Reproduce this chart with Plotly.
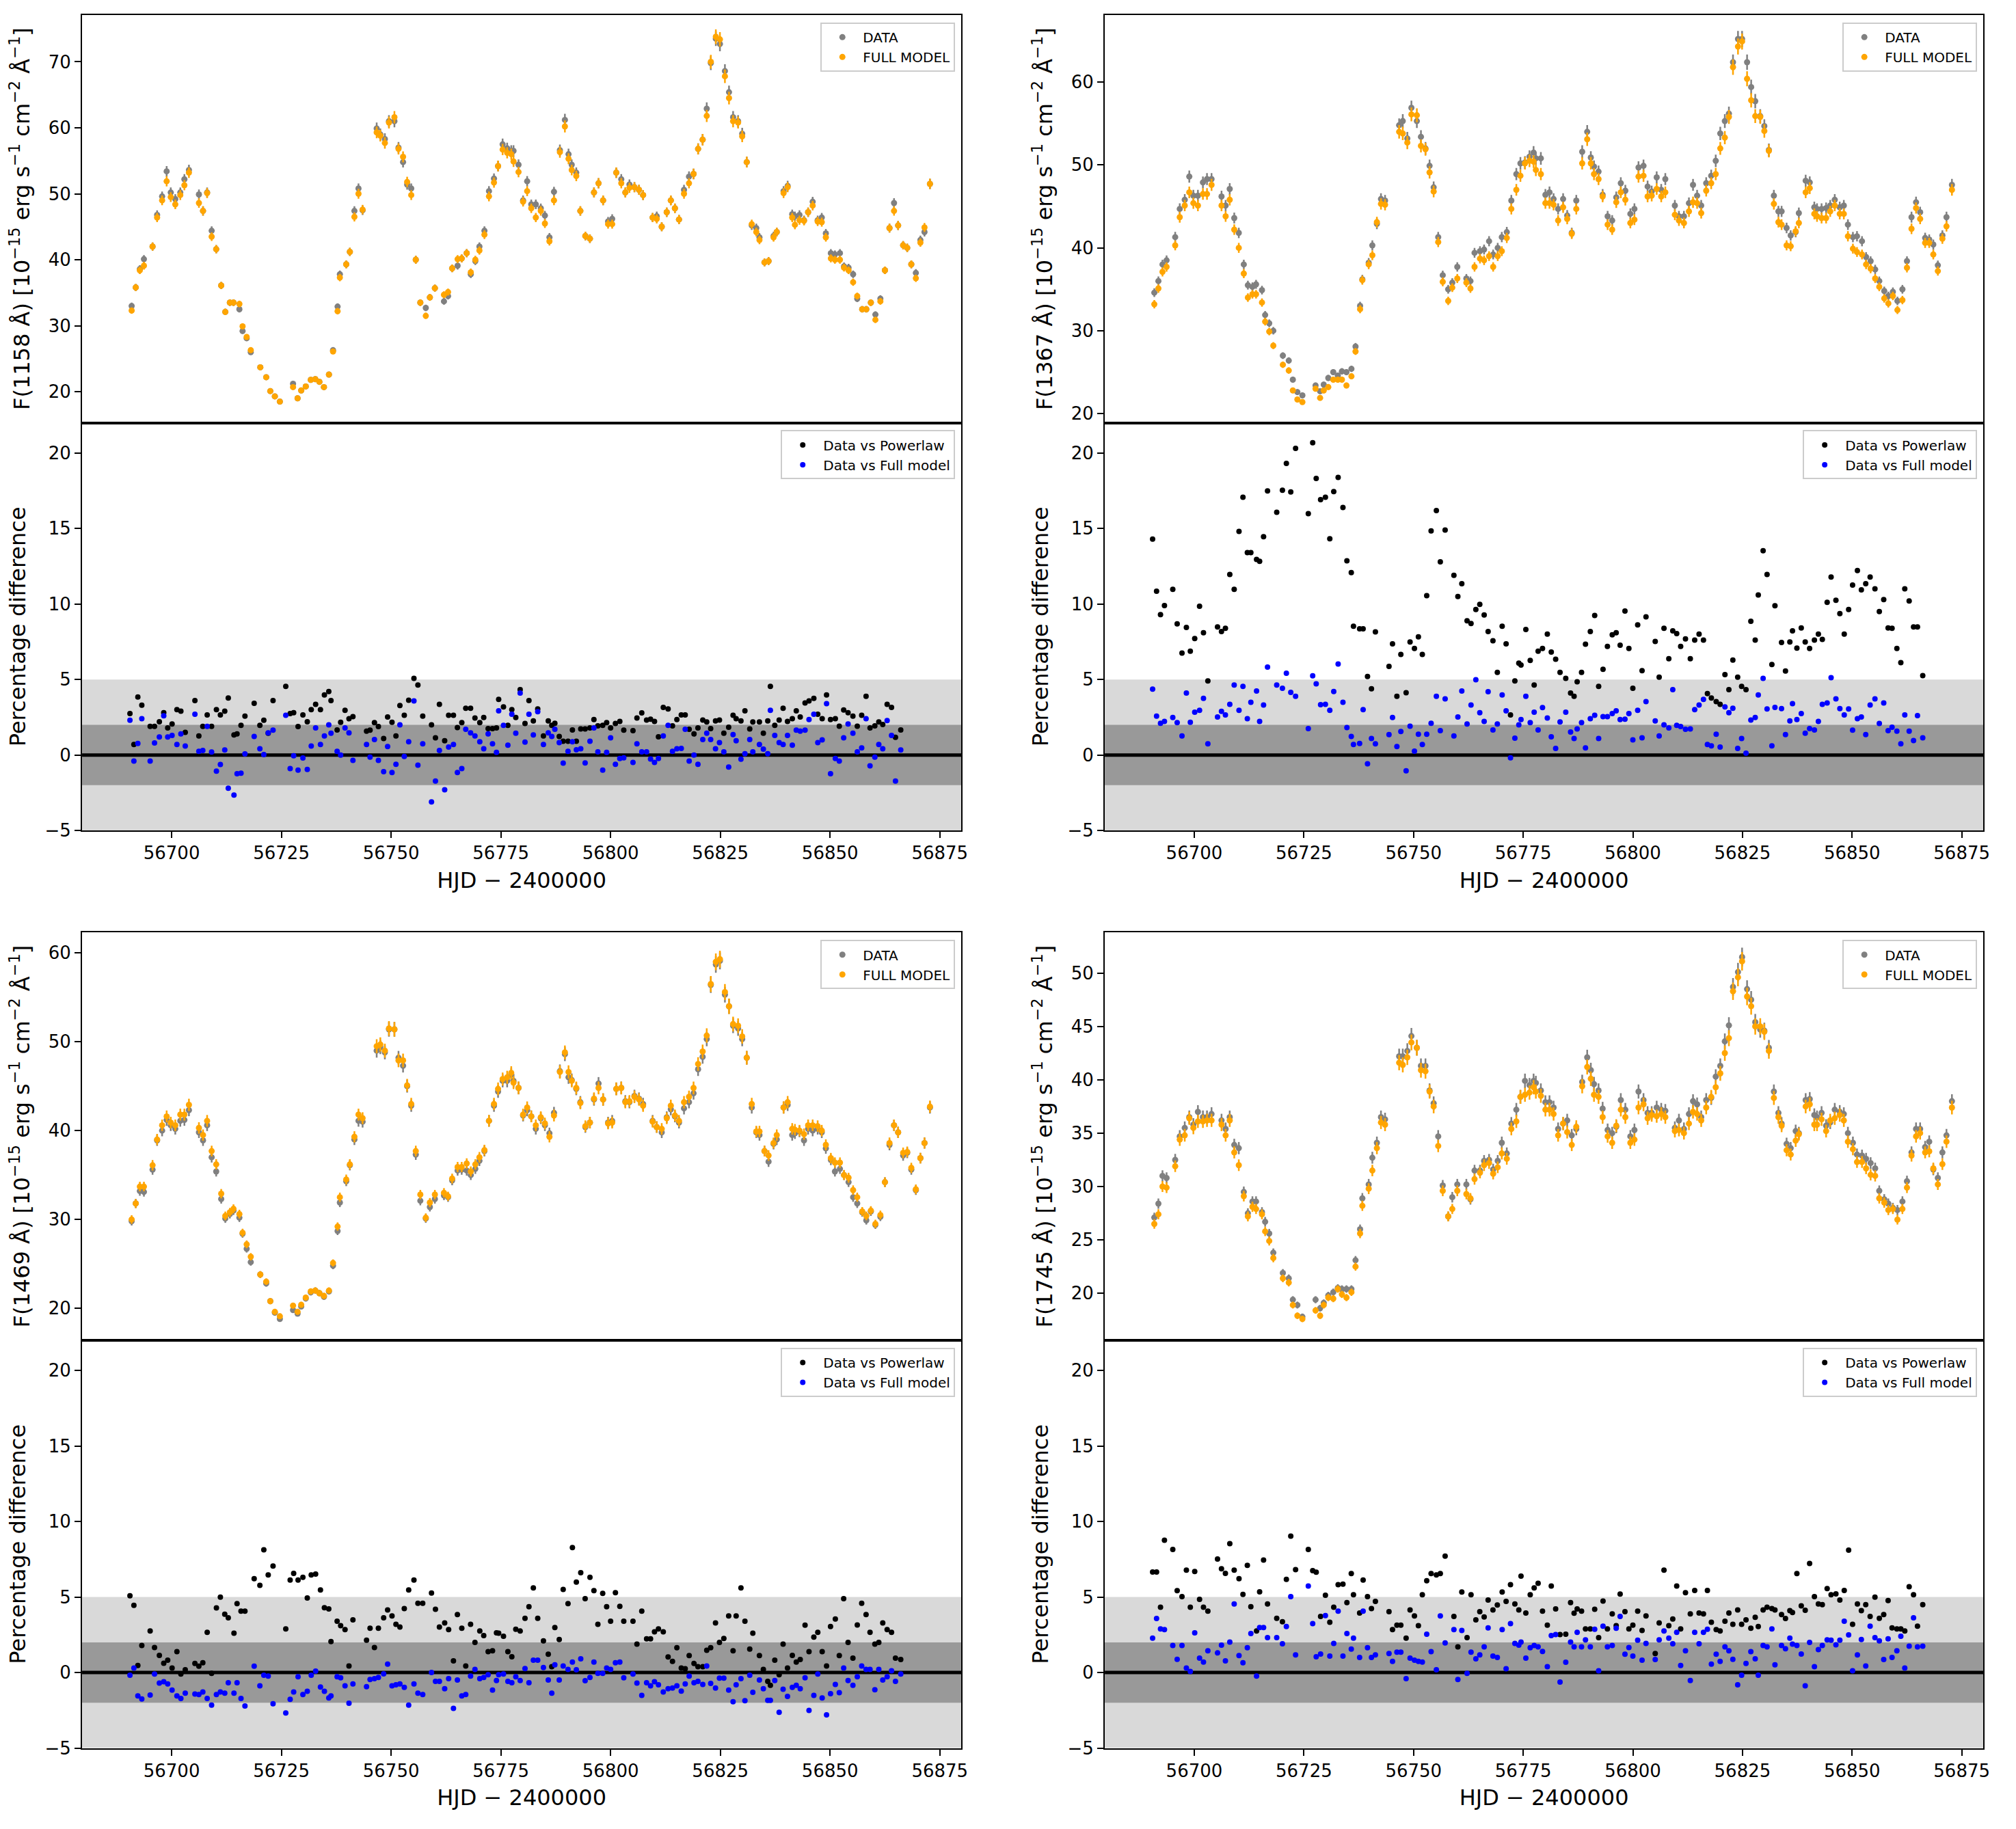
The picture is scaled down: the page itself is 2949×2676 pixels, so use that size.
import plotly.graph_objects as go

# ---------------- data ----------------
hjd = [
    56690.5, 56691.4, 56692.3, 56693.2, 56695.1, 56696.1, 56697.2, 56698.2, 56699.1, 56700.1,
    56701.2, 56702.1, 56703.1, 56705.3, 56706.2, 56707.1, 56708.1, 56709.1, 56710.2, 56711.1,
    56712.1, 56712.9, 56714.2, 56714.9, 56715.8, 56716.7, 56718.8, 56720.1, 56721.0, 56722.0,
    56723.1, 56726.0, 56727.0, 56727.8, 56728.8, 56729.9, 56730.9, 56731.8, 56732.8, 56733.9,
    56734.8, 56735.8, 56736.3, 56737.7, 56738.5, 56739.5, 56740.4, 56741.3, 56744.4, 56745.2,
    56746.2, 56747.1, 56748.3, 56749.2, 56750.2, 56751.1, 56752.0, 56753.0, 56754.0, 56755.2,
    56756.1, 56757.2, 56759.2, 56760.1, 56761.0, 56762.2, 56763.1, 56764.2, 56765.1, 56766.1,
    56767.0, 56768.1, 56769.1, 56770.2, 56771.1, 56772.1, 56773.1, 56774.0, 56774.5, 56775.6,
    56776.6, 56777.5, 56778.4, 56779.4, 56780.5, 56781.4, 56782.4, 56783.4, 56784.7, 56785.8,
    56786.6, 56787.3, 56788.3, 56789.2, 56790.3, 56791.3, 56792.2, 56793.2, 56794.2, 56795.3,
    56796.2, 56797.1, 56798.2, 56799.1, 56800.0, 56801.1, 56802.1, 56803.0, 56805.1, 56806.0,
    56807.1, 56808.2, 56809.1, 56810.0, 56810.9, 56812.0, 56813.1, 56814.1, 56815.1, 56816.1,
    56817.0, 56817.9, 56819.0, 56819.9, 56821.0, 56821.9, 56822.8, 56823.9, 56824.8, 56825.8,
    56826.9, 56827.9, 56828.6, 56829.7, 56830.6, 56831.7, 56832.4, 56833.9, 56834.8, 56835.8,
    56836.4, 56837.4, 56838.4, 56839.3, 56840.3, 56841.4, 56842.3, 56843.2, 56844.3, 56845.2,
    56846.3, 56847.2, 56848.2, 56849.2, 56850.1, 56851.2, 56852.1, 56853.1, 56854.1, 56855.2,
    56856.2, 56857.2, 56858.2, 56859.1, 56860.2, 56861.1, 56862.0, 56863.0, 56864.0, 56864.9,
    56866.1,
]

# ---- F(1158 A) ----
flux_1158_data = [
    33.0, 35.8, 38.6, 40.1, 42.0, 46.8, 49.6, 53.4, 50.2, 49.2,
    50.2, 52.2, 53.6, 49.9, 47.4, 50.2, 44.4, 41.6, 36.1, 32.1,
    33.5, 33.5, 32.5, 29.2, 28.1, 26.0, 23.7, 22.2, 20.1, 19.3,
    18.5, 21.2, 19.0, 20.2, 20.8, 21.8, 21.9, 21.5, 20.7, 22.6,
    26.3, 32.9, 37.8, 39.3, 41.2, 47.4, 50.8, 47.5, 59.9, 59.0,
    58.3, 61.0, 61.0, 57.0, 54.8, 51.4, 50.8, 40.0, 33.5, 32.7,
    34.3, 35.7, 33.7, 34.5, 38.7, 39.1, 40.2, 41.0, 37.8, 39.8,
    42.0, 44.4, 50.4, 52.3, 54.2, 57.5, 56.9, 56.5, 56.5, 54.4,
    49.0, 51.9, 48.4, 48.4, 47.8, 46.7, 43.4, 50.3, 56.6, 61.2,
    56.0, 54.4, 53.2, 47.4, 43.6, 43.2, 50.2, 51.6, 49.0, 45.8,
    46.2, 53.2, 52.2, 50.2, 51.4, 51.0, 50.6, 49.8, 46.4, 46.6,
    45.0, 47.2, 49.0, 47.8, 46.1, 50.6, 52.6, 53.0, 56.8, 58.2,
    62.9, 69.8, 73.5, 72.7, 68.6, 65.4, 61.6, 61.0, 59.1, 54.8,
    45.2, 44.8, 43.4, 39.6, 39.8, 43.6, 44.2, 50.4, 51.2, 46.9,
    46.6, 46.8, 46.0, 47.2, 48.8, 46.0, 46.4, 44.0, 41.0, 40.8,
    41.0, 39.0, 38.8, 37.8, 34.1, 32.5, 32.5, 33.5, 31.7, 34.1,
    38.4, 44.8, 48.6, 45.2, 42.2, 41.8, 39.3, 38.0, 43.0, 44.2,
    51.5,
]
flux_1158_model = [
    32.3, 35.8, 38.4, 39.1, 42.0, 46.4, 49.0, 51.9, 49.5, 48.4,
    49.8, 51.3, 53.2, 48.6, 47.4, 50.1, 43.5, 41.6, 36.1, 32.1,
    33.5, 33.5, 33.3, 29.9, 28.3, 26.3, 23.7, 22.2, 20.1, 19.3,
    18.5, 20.7, 19.0, 20.2, 20.8, 21.8, 21.9, 21.5, 20.7, 22.6,
    26.1, 32.2, 37.3, 39.3, 41.2, 46.5, 50.0, 47.6, 59.3, 58.8,
    57.7, 60.8, 61.6, 56.8, 55.6, 51.8, 49.8, 40.0, 33.5, 31.5,
    34.3, 35.7, 34.7, 35.1, 38.7, 40.1, 40.2, 41.0, 38.1, 40.0,
    41.4, 43.8, 49.6, 51.7, 54.2, 56.7, 56.2, 56.0, 54.9, 53.3,
    48.8, 50.4, 47.8, 46.4, 47.4, 45.5, 42.8, 49.0, 56.3, 60.2,
    55.3, 53.6, 52.7, 47.4, 43.6, 43.2, 50.2, 51.6, 49.0, 45.4,
    45.4, 53.2, 51.6, 50.2, 50.9, 51.0, 50.6, 49.8, 46.4, 46.2,
    45.0, 47.2, 49.0, 47.8, 46.1, 50.0, 51.6, 53.0, 56.8, 58.2,
    61.8, 70.0, 73.8, 73.4, 67.8, 64.5, 61.0, 60.8, 58.7, 54.8,
    45.4, 44.2, 43.0, 39.6, 39.8, 43.4, 44.2, 50.1, 51.0, 46.4,
    45.3, 46.0, 45.9, 47.2, 48.2, 45.8, 45.7, 43.4, 40.2, 40.0,
    40.0, 38.8, 38.4, 36.6, 34.5, 32.5, 32.5, 33.5, 30.9, 33.7,
    38.4, 44.8, 47.4, 45.2, 42.2, 41.8, 39.3, 37.2, 42.6, 44.9,
    51.5,
]
res_1158_powerlaw = [
    2.75, 0.7, 3.84, 3.3, 1.9, 1.9, 2.2, 2.8, 1.8, 2.05,
    3.0, 2.9, 1.5, 3.6, 1.26, 1.9, 2.66, 1.9, 3.0, 2.66,
    2.9, 3.77, 1.33, 1.4, 1.96, 2.58, 3.42, 1.96, 2.3, 1.44,
    3.6, 4.54, 2.75, 2.8, 1.88, 2.66, 2.2, 3.0, 3.36, 3.0,
    3.98, 4.2, 3.6, 1.66, 2.17, 2.96, 2.4, 2.54, 1.58, 1.65,
    2.14, 1.88, 1.09, 2.52, 2.17, 1.26, 3.28, 2.63, 3.63, 5.08,
    4.63, 2.58, 2.0, 1.14, 3.36, 0.95, 2.63, 2.63, 1.82, 2.14,
    3.1, 3.1, 2.45, 2.14, 2.49, 1.75, 1.75, 1.79, 3.68, 3.19,
    1.96, 3.0, 2.49, 4.33, 2.09, 3.6, 2.26, 3.05, 1.26, 2.26,
    1.96, 2.1, 1.23, 0.91, 0.91, 1.66, 0.91, 1.73, 1.73, 1.79,
    2.35, 1.93, 1.96, 2.14, 1.79, 2.09, 2.23, 1.65, 1.61, 2.45,
    2.79, 2.31, 2.37, 2.23, 1.21, 3.15, 3.05, 1.93, 2.35, 2.66,
    2.66, 1.7, 1.4, 1.79, 2.31, 2.19, 1.75, 2.26, 2.31, 1.44,
    1.84, 2.63, 2.4, 2.26, 2.93, 1.73, 2.19, 2.19, 1.44, 2.26,
    4.54, 1.96, 2.31, 3.1, 2.23, 2.4, 2.93, 2.52, 3.45, 3.58,
    3.75, 2.7, 2.4, 3.98, 2.35, 2.4, 1.91, 2.98, 2.8, 2.58,
    1.91, 2.63, 3.89, 1.79, 1.93, 2.19, 2.02, 3.36, 3.15, 1.17,
    1.66,
]
res_1158_full = [
    2.3, -0.4, 0.77, 2.4, -0.4, 0.8, 1.2, 2.6, 1.2, 1.3,
    0.7, 1.4, 0.6, 2.7, 0.25, 0.3, 1.9, 0.2, -1.07, -0.63,
    0.33, -2.2, -2.65, -1.24, -1.2, 0.07, 1.23, 0.42, 0.03, 1.47,
    1.65, 2.63, -0.9, -0.05, -1.0, -0.2, -0.96, 0.6, 1.8, 0.7,
    1.26, 2.0, 1.44, 0.25, 0.0, 1.8, 1.47, -0.35, 0.7, -0.14,
    1.03, -0.35, -1.1, 0.56, -1.16, -0.61, 2.0, -0.1, 0.88, 3.58,
    -0.67, 0.74, -3.1, -1.72, 0.3, -2.3, 0.53, 0.7, -1.16, -0.9,
    1.7, 1.47, 1.26, 0.88, 0.42, 1.4, 0.74, 0.18, 2.93, 1.96,
    0.65, 2.7, 1.44, 4.1, 0.86, 2.7, 1.33, 2.87, 0.7, 1.47,
    1.23, 1.7, 0.82, -0.54, 0.25, 0.88, 0.35, 0.42, -0.53, 0.91,
    1.79, 0.21, -1.0, 0.18, 1.14, -0.61, -0.23, -0.18, -0.49, 0.74,
    0.21, 0.21, -0.26, -0.49, -0.23, 1.26, 1.96, 0.25, 0.42, 0.44,
    1.7, -0.4, 0.0, -0.61, 1.03, 1.44, 1.03, 0.42, 0.82, 0.21,
    -0.8, 1.35, 0.95, -0.28, 0.09, 1.03, 0.21, 0.7, 0.39, 0.09,
    2.96, 1.3, 0.82, 0.7, 1.3, 0.65, 1.65, 1.58, 1.65, 2.35,
    2.7, 0.82, 1.0, 3.4, -1.24, -0.23, -0.4, 1.14, 2.05, 1.44,
    0.21, 0.47, 2.4, -0.72, -0.14, 0.7, 0.42, 2.28, 1.3, -1.72,
    0.33,
]

# ---- F(1367 A) ----
flux_1367_data = [
    34.6, 36.0, 38.0, 38.5, 41.3, 44.7, 45.8, 48.6, 46.3, 46.3,
    47.9, 48.3, 48.3, 46.2, 45.1, 47.1, 43.6, 41.8, 38.0, 35.5,
    35.3, 35.6, 34.9, 31.9, 30.9, 30.0, 27.0, 26.4, 24.1, 22.6,
    22.2, 23.4, 22.7, 23.5, 24.3, 25.0, 24.6, 25.1, 25.0, 25.4,
    28.1, 33.0, 36.2, 38.2, 40.3, 42.9, 45.9, 45.7, 54.8, 55.3,
    53.2, 56.9, 55.3, 53.4, 52.0, 49.9, 47.3, 41.3, 36.7, 35.0,
    35.8, 37.7, 36.3, 36.0, 39.4, 39.6, 39.8, 40.8, 39.2, 40.0,
    41.3, 41.9, 45.7, 48.9, 50.2, 50.3, 51.0, 51.5, 50.8, 50.8,
    46.4, 46.7, 45.9, 44.7, 45.9, 43.9, 41.8, 45.7, 51.6, 54.0,
    50.9, 49.8, 49.2, 46.4, 43.8, 43.3, 46.1, 47.8, 46.9, 44.1,
    44.7, 49.7, 49.9, 47.4, 46.8, 48.5, 47.0, 48.3, 45.1, 43.8,
    43.8, 45.4, 47.6, 46.3, 45.1, 47.8, 48.7, 50.5, 53.8, 55.3,
    56.2, 62.4, 65.2, 65.2, 62.4, 59.4, 57.7, 55.9, 54.7, 51.8,
    46.3, 44.4, 44.4, 42.4, 41.5, 41.9, 44.2, 48.1, 47.9, 44.9,
    44.7, 44.7, 44.8, 45.1, 45.8, 44.9, 45.1, 42.8, 41.3, 41.4,
    40.8, 38.9, 38.4, 37.4, 36.0, 34.8, 34.2, 34.7, 33.6, 35.0,
    38.4, 43.7, 45.5, 44.3, 41.2, 41.0, 40.4, 37.9, 41.5, 43.7,
    47.6,
]
flux_1367_model = [
    33.2, 35.1, 37.1, 37.7, 40.3, 43.7, 45.1, 46.7, 45.4, 45.1,
    46.5, 46.5, 47.6, 45.1, 43.8, 45.8, 42.2, 40.0, 36.9, 34.0,
    34.4, 34.4, 33.4, 31.1, 29.9, 28.2, 25.9, 25.2, 22.8, 21.7,
    21.4, 23.0, 21.9, 22.8, 23.2, 24.1, 24.1, 24.1, 23.4, 24.5,
    27.5, 32.6, 36.1, 38.0, 39.1, 43.1, 45.3, 45.2, 54.0, 53.8,
    52.7, 56.1, 56.0, 52.3, 51.9, 49.1, 46.8, 40.7, 35.9, 33.6,
    35.2, 36.3, 35.8, 35.1, 37.7, 38.7, 38.5, 39.0, 37.7, 39.0,
    39.6, 41.2, 44.7, 47.0, 48.7, 50.2, 50.5, 50.4, 49.4, 48.9,
    45.4, 45.4, 45.2, 43.3, 44.9, 43.5, 41.7, 44.7, 50.2, 53.1,
    50.2, 48.9, 48.3, 46.2, 42.8, 42.2, 45.5, 46.7, 45.8, 43.0,
    43.4, 48.6, 48.7, 46.2, 46.3, 47.1, 46.2, 46.7, 44.0, 43.3,
    43.0, 44.4, 45.5, 45.4, 44.2, 46.9, 47.8, 48.9, 52.0, 53.3,
    55.8, 61.8, 64.3, 64.9, 60.4, 57.8, 55.9, 55.8, 54.1, 51.7,
    45.3, 43.1, 42.8, 40.3, 40.2, 42.0, 43.0, 46.7, 47.2, 44.1,
    43.8, 43.6, 43.6, 44.4, 45.1, 44.1, 44.1, 41.4, 39.9, 39.5,
    39.2, 38.0, 37.5, 36.3, 35.3, 33.9, 33.3, 34.2, 32.5, 33.7,
    37.6, 42.3, 44.8, 43.5, 40.6, 40.6, 39.2, 37.2, 41.1, 42.6,
    47.0,
]
res_1367_powerlaw = [
    14.3, 10.85, 9.29, 9.9, 10.97, 8.68, 6.75, 8.45, 6.87, 7.71,
    9.85, 8.1, 4.91, 8.48, 8.18, 8.39, 11.95, 10.97, 14.8, 17.07,
    13.4, 13.4, 12.95, 12.83, 14.46, 17.49, 16.07, 17.53, 19.31, 17.42,
    20.3, 15.98, 20.68, 18.31, 16.91, 17.07, 14.32, 17.44, 18.38, 16.39,
    12.86, 12.08, 8.53, 8.36, 8.36, 5.2, 4.38, 8.15, 5.87, 7.36,
    3.89, 6.66, 4.12, 7.48, 7.05, 7.83, 6.66, 10.55, 14.84, 16.19,
    12.79, 14.9, 11.9, 10.5, 11.34, 8.89, 8.71, 9.64, 9.97, 9.27,
    8.18, 7.57, 5.47, 8.53, 7.36, 2.66, 4.91, 6.08, 5.96, 8.31,
    6.26, 4.63, 6.87, 7.05, 8.01, 6.82, 6.34, 5.47, 5.08, 4.1,
    3.89, 4.85, 5.47, 7.34, 8.18, 9.24, 4.54, 5.68, 7.19, 7.96,
    8.1, 7.27, 9.53, 7.05, 4.42, 8.62, 5.59, 9.15, 7.52, 5.15,
    8.39, 6.38, 8.22, 8.04, 7.19, 7.69, 6.38, 7.61, 8.01, 7.61,
    4.07, 3.77, 3.54, 3.36, 5.33, 4.33, 6.29, 5.15, 4.54, 4.33,
    8.85, 7.61, 10.6, 13.53, 11.95, 5.99, 9.88, 7.45, 5.56, 7.48,
    8.22, 7.08, 8.41, 7.48, 7.05, 7.61, 8.01, 7.66, 10.11, 11.78,
    10.25, 9.36, 8.01, 9.64, 11.25, 12.22, 10.94, 11.34, 11.78, 11.0,
    9.5, 10.29, 8.41, 8.39, 7.05, 6.12, 11.0, 10.2, 8.48, 8.48,
    5.26,
]
res_1367_full = [
    4.36, 2.58, 2.1, 2.23, 2.49, 2.14, 1.26, 4.1, 2.17, 2.84,
    2.96, 3.75, 0.74, 2.52, 2.89, 2.66, 3.36, 4.63, 2.96, 4.54,
    2.4, 3.49, 4.24, 2.23, 3.31, 5.82, 4.63, 4.42, 5.42, 4.15,
    3.89, 1.75, 5.24, 4.71, 3.33, 3.36, 2.96, 4.21, 6.03, 3.49,
    1.82, 1.23, 0.7, 0.77, 3.01, -0.58, 1.09, 0.74, 1.35, 2.49,
    0.56, 1.56, -1.05, 1.91, 0.26, 1.38, 0.7, 1.38, 2.1, 3.89,
    1.61, 3.72, 1.26, 2.52, 4.24, 2.05, 3.31, 4.99, 2.8, 2.23,
    4.19, 1.66, 2.05, 3.98, 2.93, -0.18, 1.12, 2.0, 2.35, 3.89,
    2.14, 2.84, 1.66, 3.14, 2.45, 1.21, 0.44, 2.19, 2.84, 1.52,
    1.09, 1.73, 2.14, 0.47, 2.4, 2.63, 1.09, 2.54, 2.54, 2.75,
    2.93, 2.35, 2.37, 2.75, 1.0, 2.96, 1.14, 3.54, 2.26, 1.26,
    2.0, 1.79, 4.33, 1.96, 1.88, 1.7, 1.73, 3.01, 3.31, 3.68,
    0.7, 0.61, 1.38, 0.53, 3.19, 2.8, 3.1, 0.44, 1.09, 0.12,
    2.31, 2.49, 3.98, 5.08, 3.05, 0.61, 3.15, 3.07, 1.35, 2.26,
    3.4, 2.35, 2.75, 1.44, 1.75, 1.66, 2.23, 3.36, 3.45, 5.12,
    3.72, 3.07, 2.66, 3.05, 1.65, 2.4, 2.52, 1.35, 3.31, 3.72,
    2.09, 3.45, 1.61, 1.84, 1.58, 0.74, 2.66, 1.58, 0.96, 2.61,
    1.14,
]

# ---- F(1469 A) ----
flux_1469_data = [
    29.8, 31.8, 33.2, 33.1, 35.6, 38.9, 40.0, 41.2, 40.6, 40.2,
    41.1, 41.2, 42.3, 39.8, 38.9, 40.6, 37.0, 35.4, 32.3, 30.1,
    30.6, 31.0, 30.2, 28.4, 26.7, 25.2, 23.8, 22.8, 20.8, 19.5,
    18.8, 19.8, 19.4, 20.2, 21.1, 21.8, 22.0, 21.7, 21.3, 21.9,
    24.8, 28.7, 31.9, 34.3, 36.1, 39.0, 41.1, 41.0, 49.0, 49.4,
    48.8, 51.4, 51.4, 48.2, 47.3, 45.0, 42.8, 37.3, 32.1, 30.1,
    31.4, 32.3, 32.7, 32.5, 34.4, 35.5, 35.6, 35.5, 35.0, 35.7,
    36.6, 37.7, 41.1, 42.8, 44.4, 45.6, 45.6, 46.3, 45.6, 44.8,
    41.7, 42.3, 41.6, 40.2, 41.4, 40.6, 39.7, 42.0, 46.7, 48.6,
    46.0, 45.7, 44.7, 43.2, 40.4, 40.9, 43.5, 45.3, 43.5, 40.9,
    41.1, 44.7, 44.8, 43.3, 43.2, 43.9, 43.6, 43.0, 41.1, 40.4,
    39.8, 41.5, 42.4, 41.6, 40.9, 42.5, 43.2, 44.2, 46.9, 48.3,
    50.3, 56.4, 58.7, 59.1, 55.3, 54.0, 51.8, 51.5, 50.3, 48.2,
    42.6, 39.8, 39.5, 37.7, 36.5, 38.5, 39.0, 42.6, 42.9, 39.5,
    39.7, 39.9, 38.9, 40.2, 40.0, 40.2, 39.8, 38.0, 36.7, 35.4,
    35.7, 35.0, 34.2, 32.5, 31.8, 30.8, 29.9, 30.9, 29.4, 30.3,
    34.2, 38.4, 40.6, 39.8, 37.2, 37.5, 35.6, 33.3, 36.9, 38.6,
    42.6,
]
flux_1469_model = [
    30.0, 31.8, 33.7, 33.7, 36.1, 39.0, 40.6, 41.6, 40.9, 40.6,
    41.8, 41.8, 42.9, 40.3, 39.5, 41.1, 37.7, 36.2, 32.9, 30.4,
    30.8, 31.2, 30.6, 28.5, 27.2, 25.8, 23.8, 23.0, 20.8, 19.6,
    19.1, 20.3, 19.6, 20.4, 21.2, 21.9, 22.0, 21.7, 21.4, 22.0,
    25.1, 29.2, 32.5, 34.5, 36.2, 39.3, 41.8, 41.4, 49.5, 49.7,
    49.0, 51.5, 51.4, 47.9, 47.9, 45.1, 43.0, 37.7, 32.8, 30.2,
    31.9, 32.8, 33.0, 32.6, 34.6, 35.9, 35.9, 36.3, 35.4, 36.2,
    37.0, 37.8, 41.1, 43.0, 44.7, 45.8, 46.0, 46.5, 45.4, 44.8,
    41.8, 42.6, 41.6, 40.6, 41.5, 40.8, 39.3, 41.7, 46.6, 48.8,
    46.6, 45.6, 44.8, 43.1, 40.5, 40.9, 43.6, 44.8, 43.5, 40.8,
    40.9, 44.7, 44.8, 43.2, 43.3, 43.8, 43.5, 42.8, 41.0, 40.4,
    40.2, 41.4, 42.8, 41.7, 41.1, 43.2, 43.8, 44.8, 47.5, 48.9,
    50.7, 56.5, 59.0, 59.3, 55.6, 54.0, 52.0, 51.8, 50.6, 48.2,
    43.0, 39.9, 39.9, 37.7, 37.2, 38.6, 39.5, 42.6, 43.2, 40.2,
    40.1, 40.0, 39.6, 40.6, 40.6, 40.5, 40.0, 38.4, 36.9, 36.4,
    36.4, 35.0, 34.7, 33.3, 32.5, 30.9, 30.4, 31.0, 29.5, 30.5,
    34.2, 38.6, 40.6, 39.8, 37.5, 37.6, 35.8, 33.4, 36.9, 38.6,
    42.7,
]
res_1469_powerlaw = [
    5.08, 4.45, 0.47, 1.79, 2.75, 1.66, 1.14, 0.61, 0.82, 0.3,
    1.38, -0.1, 0.18, 0.6, 0.42, 0.65, 2.66, -0.05, 4.28, 4.99,
    3.86, 3.63, 2.61, 4.56, 4.07, 4.07, 6.22, 5.77, 8.13, 6.47,
    7.05, 2.89, 6.13, 6.57, 6.13, 6.31, 4.94, 6.47, 6.52, 5.47,
    4.29, 4.21, 2.05, 3.4, 3.1, 2.84, 0.44, 3.49, 2.14, 2.93,
    1.66, 2.93, 3.63, 4.15, 3.75, 3.19, 3.01, 4.24, 5.47, 6.12,
    4.59, 4.59, 5.26, 4.19, 3.01, 3.28, 2.84, 0.77, 3.84, 2.93,
    0.44, 3.19, 2.0, 2.75, 2.45, 1.38, 1.44, 2.63, 2.61, 2.4,
    1.38, 1.05, 2.87, 2.75, 3.59, 4.36, 5.61, 3.59, 2.1, 1.21,
    0.39, 2.98, 2.19, 5.5, 4.56, 8.27, 5.99, 6.61, 4.89, 6.31,
    5.42, 3.19, 5.24, 4.36, 3.4, 5.29, 4.38, 3.4, 3.4, 1.88,
    4.07, 2.23, 2.23, 2.7, 2.89, 2.7, 1.03, 0.74, 1.65, 0.3,
    0.25, 1.12, 0.6, 0.39, 0.39, 1.47, 1.65, 3.28, 2.0, 2.26,
    3.75, 1.44, 3.75, 5.61, 3.4, 1.56, 2.61, 1.12, 0.21, -0.58,
    -0.84, 0.82, -0.14, 1.88, 0.3, 1.14, 0.7, 0.86, 3.14, 1.38,
    2.35, 2.66, 1.38, 0.44, 3.05, 3.54, 1.12, 4.89, 2.0, 0.96,
    3.15, 4.59, 3.84, 2.66, 1.88, 2.0, 3.28, 2.84, 2.66, 0.95,
    0.86,
]
res_1469_full = [
    -0.18, 0.3, -1.54, -1.75, -1.49, -0.1, -0.7, -0.61, -0.75, -1.16,
    -1.54, -1.72, -1.37, -1.42, -1.45, -1.28, -1.72, -2.16, -1.45, -1.28,
    -1.37, -0.67, -1.37, -0.67, -1.72, -2.21, 0.42, -0.88, -0.18, -0.23,
    -2.07, -2.68, -1.77, -1.28, -0.28, -1.45, -1.24, -0.18, 0.09, -0.96,
    -1.24, -1.68, -1.54, -0.28, -0.35, -0.88, -2.03, -0.75, -0.93, -0.46,
    -0.4, -0.32, -0.09, 0.56, -0.88, -0.81, -0.75, -0.98, -2.16, -0.75,
    -1.37, -1.45, 0.0, -0.58, -0.58, -1.07, -0.4, -2.37, -0.49, -1.54,
    -1.45, -0.23, 0.21, -0.4, -0.32, -0.14, -1.16, -0.53, -0.14, -0.1,
    -0.58, -0.67, -0.28, -0.53, 0.26, -0.67, 0.82, 0.82, 0.33, -0.49,
    -1.37, 0.51, -0.49, 0.44, 0.21, 0.7, 0.18, 0.91, -0.54, -0.32,
    0.7, -0.05, -0.05, 0.3, 0.21, 0.65, 0.7, -0.35, -0.1, -0.7,
    -1.51, -0.67, -0.88, -0.61, -0.81, -1.28, -1.07, -1.02, -0.88, -1.23,
    -0.75, -0.23, -0.67, -0.58, -0.79, 0.44, -0.72, -1.02, -0.37, -0.37,
    -1.16, -1.93, -0.81, -0.4, -1.86, -0.18, -1.31, -0.49, -1.07, -1.84,
    -1.84, -0.53, -2.63, -1.1, -1.58, -0.98, -0.84, -1.07, -0.35, -2.51,
    -1.51, -0.1, -1.68, -2.8, -1.4, -0.79, -1.33, 0.3, -0.53, -0.84,
    -0.28, 0.44, 0.21, 0.21, -1.14, 0.21, -0.49, -0.28, 0.12, -0.58,
    -0.1,
]

# ---- F(1745 A) ----
flux_1745_data = [
    27.1, 28.4, 31.0, 30.8, 32.5, 34.7, 35.5, 36.5, 35.8, 37.0,
    36.5, 36.5, 36.8, 36.2, 35.4, 36.5, 33.9, 33.6, 29.5, 27.5,
    28.6, 28.6, 27.6, 26.7, 25.6, 23.8, 21.9, 21.4, 19.4, 18.9,
    17.8, 19.4, 18.6, 19.1, 19.8, 20.1, 20.5, 20.4, 20.4, 20.4,
    23.1, 26.0, 28.9, 30.2, 32.7, 34.1, 36.5, 36.3, 42.2, 42.2,
    42.7, 44.1, 43.0, 41.3, 41.3, 39.0, 37.8, 34.7, 30.1, 27.2,
    29.0, 30.2, 30.2, 28.8, 31.5, 31.5, 32.4, 32.5, 31.6, 32.4,
    34.1, 33.1, 35.9, 37.2, 38.4, 39.9, 39.5, 39.9, 39.7, 39.0,
    37.9, 37.9, 37.4, 35.4, 35.9, 36.2, 34.8, 35.4, 39.8, 42.1,
    40.9, 39.6, 39.0, 37.3, 35.3, 35.0, 35.6, 38.1, 37.2, 34.7,
    35.3, 38.9, 38.1, 36.9, 36.9, 37.4, 37.2, 37.1, 35.5, 36.2,
    35.4, 36.8, 38.0, 37.7, 36.5, 38.1, 38.3, 40.3, 41.3, 43.6,
    45.1, 48.7, 50.1, 51.5, 48.5, 47.5, 45.4, 44.7, 44.6, 43.0,
    38.9, 36.9, 35.9, 34.0, 33.6, 35.2, 35.0, 38.1, 38.2, 36.7,
    36.5, 36.9, 35.7, 36.0, 37.2, 37.0, 36.8, 35.0, 34.1, 33.0,
    32.9, 32.6, 32.2, 31.7, 29.6, 28.8, 28.4, 28.0, 27.8, 28.6,
    30.5, 33.2, 35.4, 35.4, 33.7, 34.2, 31.6, 30.8, 33.2, 34.8,
    38.0,
]
flux_1745_model = [
    26.5, 27.4, 30.0, 29.9, 31.9, 34.4, 34.8, 36.4, 35.5, 36.1,
    36.1, 36.2, 36.2, 35.8, 34.8, 36.2, 33.2, 32.0, 29.1, 27.2,
    28.1, 27.9, 27.4, 25.8, 24.9, 23.3, 21.4, 21.0, 18.9, 17.9,
    17.6, 18.4, 17.9, 18.9, 19.6, 19.5, 20.4, 19.9, 19.6, 20.1,
    22.5, 25.6, 28.2, 29.8, 31.5, 33.6, 36.0, 35.8, 41.6, 41.4,
    42.1, 43.5, 43.0, 40.9, 40.8, 38.9, 37.5, 33.8, 29.6, 27.2,
    27.9, 29.6, 29.3, 28.9, 30.7, 31.3, 32.0, 32.2, 31.2, 31.8,
    33.1, 32.6, 35.4, 36.1, 38.4, 38.6, 38.8, 39.3, 38.9, 38.5,
    37.2, 37.2, 36.8, 34.8, 35.9, 35.1, 33.9, 35.6, 39.4, 41.2,
    40.1, 38.6, 38.4, 36.5, 34.7, 34.1, 35.7, 37.2, 36.5, 34.1,
    34.4, 37.4, 37.7, 36.4, 36.7, 36.6, 36.8, 36.5, 35.2, 35.3,
    35.0, 35.9, 37.0, 36.8, 36.2, 37.4, 38.4, 39.3, 40.6, 42.5,
    43.9, 48.3, 49.6, 51.1, 47.8, 46.9, 45.0, 45.0, 44.5, 42.7,
    38.3, 36.5, 35.7, 33.4, 33.0, 34.3, 34.9, 37.5, 37.7, 35.8,
    35.8, 36.3, 35.2, 36.2, 36.4, 36.7, 36.2, 34.2, 33.5, 32.3,
    32.3, 31.7, 31.1, 31.0, 28.9, 28.5, 27.8, 27.9, 26.9, 27.9,
    29.9, 32.9, 34.7, 35.0, 33.2, 33.3, 31.7, 30.2, 32.1, 34.2,
    37.4,
]
res_1745_powerlaw = [
    6.66, 6.66, 4.33, 8.76, 8.15, 5.42, 5.03, 6.78, 4.33, 6.69,
    4.85, 4.33, 4.07, 7.52, 6.87, 6.57, 8.53, 6.78, 6.22, 5.17,
    7.1, 4.36, 2.75, 5.35, 7.45, 4.54, 3.59, 3.36, 6.17, 9.03,
    6.82, 8.15, 6.75, 6.64, 3.72, 5.12, 3.33, 4.33, 5.82, 5.85,
    4.63, 6.55, 5.15, 3.94, 6.12, 5.03, 4.24, 4.71, 4.03, 2.84,
    3.14, 3.14, 2.28, 4.15, 3.75, 3.1, 5.15, 6.08, 6.55, 6.47,
    6.55, 7.71, 3.72, 1.7, 5.33, 2.31, 5.15, 3.49, 4.03, 3.68,
    4.8, 4.15, 4.47, 5.33, 4.71, 5.82, 4.54, 4.15, 6.38, 3.94,
    5.15, 5.61, 5.91, 4.07, 3.14, 5.73, 4.21, 2.52, 2.54, 4.63,
    3.93, 4.21, 4.07, 2.89, 2.89, 4.19, 2.31, 4.73, 2.89, 3.89,
    3.1, 5.2, 4.03, 2.89, 3.14, 4.07, 2.79, 3.75, 1.26, 3.28,
    6.78, 3.1, 3.54, 5.73, 2.89, 5.29, 3.89, 5.43, 3.94, 3.89,
    5.43, 3.33, 2.84, 2.75, 3.4, 3.94, 3.19, 4.15, 3.19, 3.49,
    2.93, 3.66, 3.05, 4.15, 4.33, 4.24, 4.15, 3.84, 3.58, 4.1,
    3.98, 6.55, 4.42, 4.12, 7.22, 5.03, 4.54, 4.5, 5.56, 5.15,
    5.21, 4.8, 5.43, 8.1, 3.19, 4.54, 4.1, 4.5, 3.72, 4.99,
    3.59, 3.84, 4.77, 2.96, 2.89, 2.89, 2.75, 5.68, 5.15, 3.07,
    4.5,
]
res_1745_full = [
    2.28, 3.58, 2.89, 2.84, 1.79, 0.88, 1.79, 0.3, 0.07, 2.63,
    0.95, 0.7, 1.44, 1.3, 1.82, 0.77, 2.02, 4.54, 1.12, 0.65,
    1.65, 2.58, -0.23, 2.98, 2.98, 2.31, 2.31, 1.91, 3.05, 5.03,
    1.17, 5.73, 3.24, 1.05, 1.23, 3.77, 1.09, 1.93, 4.07, 1.09,
    2.58, 1.56, 2.28, 1.0, 4.07, 1.65, 1.0, 1.17, 1.26, 0.74,
    1.35, 1.35, -0.4, 0.95, 0.82, 0.74, 0.7, 2.54, 1.38, 0.18,
    3.75, 1.96, 2.84, -0.46, 2.79, -0.05, 1.35, 0.91, 1.17, 1.7,
    2.96, 1.09, 1.0, 2.84, 0.25, 3.24, 1.93, 1.82, 2.02, 0.95,
    1.65, 1.79, 1.7, 1.4, 0.39, 2.45, 2.52, -0.63, 0.68, 2.02,
    1.7, 2.66, 1.7, 2.17, 1.7, 2.87, 0.12, 3.07, 1.7, 1.79,
    2.93, 3.72, 1.21, 1.66, 1.09, 2.14, 0.82, 1.93, 0.86, 2.17,
    2.75, 2.28, 1.91, 2.66, 0.47, 1.44, -0.53, 2.66, 1.91, 2.66,
    2.87, 0.56, 1.21, 0.74, 1.7, 1.44, 0.88, -0.81, -0.18, 0.6,
    1.38, 0.91, -0.18, 1.79, 1.7, 2.89, 0.51, 1.79, 1.58, 2.28,
    1.88, 1.79, 1.23, -0.88, 2.0, 0.39, 1.52, 1.79, 2.17, 2.14,
    1.84, 2.14, 3.4, 2.49, 0.12, 1.17, 2.19, 0.44, 3.07, 2.31,
    2.1, 0.86, 2.23, 1.0, 1.44, 2.4, 0.3, 1.75, 3.63, 1.7,
    1.75,
]

wavelengths = ["1158", "1367", "1469", "1745"]
flux_error_percent = [1.5, 1.5, 1.6, 1.7]
residual_ticks = [-5, 0, 5, 10, 15, 20]
hjd_ticks = [56700, 56725, 56750, 56775, 56800, 56825, 56850, 56875]

# ---------------- layout geometry (pixels of the 2949x2676 page) ----------------
W, H = 2949, 2676
FONT = "DejaVu Sans"
col_px = [(120.5, 1411.0), (1621.6, 2911.0)]
row_px = [((22, 622), (622, 1222)), ((1372, 1972), (1972, 2572))]
flux_ranges = [[15.3, 77.1], [18.9, 68.1], [16.4, 62.3], [15.6, 53.8]]
flux_dticks = [10, 10, 10, 5]
flux_xrange = [56679.6, 56873.0]
res_xrange = [56679.6, 56879.9]
res_yrange = [-5, 22.0]

panels = [
    (flux_1158_data, flux_1158_model, res_1158_powerlaw, res_1158_full),
    (flux_1367_data, flux_1367_model, res_1367_powerlaw, res_1367_full),
    (flux_1469_data, flux_1469_model, res_1469_powerlaw, res_1469_full),
    (flux_1745_data, flux_1745_model, res_1745_powerlaw, res_1745_full),
]


def xdom(c):
    a, b = col_px[c]
    return [a / W, b / W]


def ydom(top, bottom):
    return [1 - bottom / H, 1 - top / H]


def axname(n):
    return "" if n == 1 else str(n)


fig = go.Figure()
layout = dict(
    width=W, height=H, autosize=False,
    margin=dict(l=0, r=0, t=0, b=0),
    paper_bgcolor="white", plot_bgcolor="white",
    font=dict(family=FONT, color="black"),
    showlegend=True,
)

axis_common = dict(
    showline=True, linecolor="black", linewidth=2, mirror=True,
    showgrid=False, zeroline=False,
    tickfont=dict(family=FONT, size=26, color="black"),
    ticks="outside", ticklen=9, tickwidth=2, tickcolor="black",
)
title_font = dict(family=FONT, size=32, color="black")
legend_common = dict(
    xanchor="right", yanchor="top",
    bgcolor="rgba(255,255,255,0.8)", bordercolor="#cccccc", borderwidth=2,
    font=dict(family=FONT, size=20, color="black"),
    tracegroupgap=0, itemwidth=50,
)
shapes = []

for i, (fdata, fmodel, rpl, rfull) in enumerate(panels):
    row, col = divmod(i, 2)
    nf, nr = 2 * i + 1, 2 * i + 2
    (ft, fb), (rt, rb) = row_px[row]
    xr_right = col_px[col][1] - 9

    lf = "legend" + axname(nf)
    lr = "legend" + axname(nr)

    # flux panel
    fig.add_trace(go.Scatter(
        x=hjd, y=fdata, mode="markers", name="DATA",
        marker=dict(color="gray", size=9, line=dict(width=0)),
        error_y=dict(type="percent", value=flux_error_percent[i], color="gray",
                     thickness=2.5, width=0),
        xaxis="x" + axname(nf), yaxis="y" + axname(nf), legend=lf,
    ))
    fig.add_trace(go.Scatter(
        x=hjd, y=fmodel, mode="markers", name="FULL MODEL",
        marker=dict(color="orange", size=9, line=dict(width=0)),
        error_y=dict(type="percent", value=flux_error_percent[i], color="orange",
                     thickness=2.5, width=0),
        xaxis="x" + axname(nf), yaxis="y" + axname(nf), legend=lf,
    ))
    # residual panel
    fig.add_trace(go.Scatter(
        x=hjd, y=rpl, mode="markers", name="Data vs Powerlaw",
        marker=dict(color="black", size=8, line=dict(width=0)),
        xaxis="x" + axname(nr), yaxis="y" + axname(nr), legend=lr,
    ))
    fig.add_trace(go.Scatter(
        x=hjd, y=rfull, mode="markers", name="Data vs Full model",
        marker=dict(color="blue", size=8, line=dict(width=0)),
        xaxis="x" + axname(nr), yaxis="y" + axname(nr), legend=lr,
    ))

    layout["xaxis" + axname(nf)] = dict(
        axis_common, domain=xdom(col), anchor="y" + axname(nf),
        range=flux_xrange, ticks="", showticklabels=False,
    )
    layout["yaxis" + axname(nf)] = dict(
        axis_common, domain=ydom(ft, fb), anchor="x" + axname(nf),
        range=flux_ranges[i], dtick=flux_dticks[i], tick0=0,
        title=dict(
            text=f"F({wavelengths[i]} Å) [10<sup>−15</sup> erg s<sup>−1</sup> cm<sup>−2</sup> Å<sup>−1</sup>]",
            font=title_font, standoff=18),
    )
    layout["xaxis" + axname(nr)] = dict(
        axis_common, domain=xdom(col), anchor="y" + axname(nr),
        range=res_xrange, tickvals=hjd_ticks, tickformat="d",
        title=dict(text="HJD − 2400000", font=title_font, standoff=14),
    )
    layout["yaxis" + axname(nr)] = dict(
        axis_common, domain=ydom(rt, rb), anchor="x" + axname(nr),
        range=res_yrange, tickvals=residual_ticks,
        title=dict(text="Percentage difference", font=title_font, standoff=18),
    )
    layout[lf] = dict(legend_common, x=xr_right / W, y=1 - (ft + 11) / H)
    layout[lr] = dict(legend_common, x=xr_right / W, y=1 - (rt + 11) / H)

    xref = "x" + axname(nr) + " domain"
    yref = "y" + axname(nr)
    shapes.append(dict(type="rect", xref=xref, yref=yref, x0=0, x1=1, y0=-5, y1=5,
                       fillcolor="#d9d9d9", line=dict(width=0), layer="below"))
    shapes.append(dict(type="rect", xref=xref, yref=yref, x0=0, x1=1, y0=-2, y1=2,
                       fillcolor="#999999", line=dict(width=0), layer="below"))
    shapes.append(dict(type="line", xref=xref, yref=yref, x0=0, x1=1, y0=0, y1=0,
                       line=dict(color="black", width=5), layer="below"))

layout["shapes"] = shapes
fig.update_layout(**layout)
fig.write_html("out.html")
